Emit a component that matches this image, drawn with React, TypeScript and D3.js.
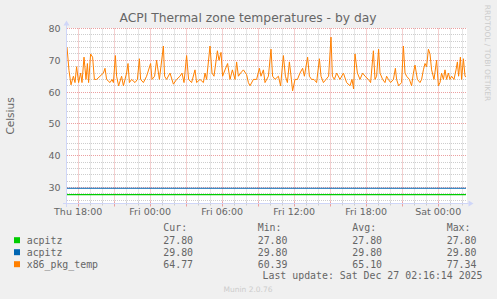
import React from 'react';
import * as d3 from 'd3';

const startTime = Date.UTC(2025, 11, 25, 17, 4);
const spanMinutes = 2000;

const tempMinutes = [
  0, 10, 20, 32, 40, 48, 58, 68, 75, 85, 95, 102, 108, 118, 128, 137, 148, 165, 182, 190,
  198, 215, 225, 232, 242, 248, 258, 273, 282, 298, 305, 312, 323, 340, 352, 362, 368, 382, 398, 418,
  425, 438, 448, 462, 482, 488, 498, 515, 532, 548, 565, 575, 585, 598, 608, 623, 640, 648, 665, 682,
  690, 698, 715, 725, 735, 752, 760, 770, 778, 790, 803, 815, 827, 840, 848, 857, 868, 882, 898, 907,
  915, 932, 948, 962, 970, 982, 990, 1007, 1020, 1028, 1040, 1057, 1068, 1082, 1092, 1102, 1112, 1122, 1128, 1140,
  1152, 1165, 1178, 1187, 1203, 1212, 1223, 1235, 1248, 1262, 1270, 1282, 1295, 1308, 1320, 1327, 1337, 1348, 1365, 1382,
  1398, 1415, 1425, 1433, 1440, 1452, 1465, 1478, 1490, 1507, 1518, 1532, 1540, 1548, 1558, 1565, 1578, 1590, 1598, 1607,
  1618, 1632, 1642, 1648, 1658, 1673, 1682, 1690, 1698, 1712, 1723, 1732, 1740, 1752, 1765, 1773, 1782, 1790, 1798, 1807,
  1815, 1823, 1835, 1848, 1857, 1865, 1873, 1882, 1890, 1898, 1907, 1915, 1923, 1935, 1945, 1952, 1958, 1967, 1973, 1982,
  1990, 1995,
];

const tempValues = [
  74.1, 66.8, 62.3, 65, 63, 68, 63, 66, 63, 71, 64, 69, 63, 72, 71, 64, 64, 65, 66, 67.5,
  64, 63, 64, 63, 71.5, 65, 62, 65, 62, 66, 69, 63, 64, 63, 64, 70.5, 64, 63, 65, 69,
  64, 65, 70, 64, 74.5, 65, 64, 66, 62.5, 64, 65, 66, 63, 71.5, 64, 63, 67, 63, 64, 63,
  66, 64, 74.5, 66, 65, 73, 70, 72.5, 65, 67, 69, 64, 67, 64, 69.5, 65, 66, 67, 65.5, 63,
  62, 64, 64, 67.5, 65, 67, 63, 65, 73.5, 65, 64, 65, 62, 71.5, 65, 63, 69.5, 64, 60.4, 64,
  64, 66, 67.5, 65, 71, 65, 64, 64, 63, 70.5, 65, 63, 64, 65, 77.3, 65, 64, 66, 64, 66,
  63, 62, 64, 61, 72, 66, 64, 66, 65, 64, 63, 73, 64, 65, 73.5, 66, 64, 63, 65, 64,
  63, 64, 67.5, 64, 62, 63, 74.5, 66, 65, 64, 62, 66, 68.5, 64, 63, 64, 67, 69, 68, 73.5,
  72, 67, 64, 70, 62, 63, 66, 64, 67, 64, 66, 64, 65, 64, 67, 69.5, 65, 71, 64, 70.5,
  65, 64.77,
];

const acpitzGreen = 27.8;
const acpitzBlue = 29.8;

const yDomain = [25, 80];
const yTickValues = [30, 40, 50, 60, 70, 80];
const xTickLabelHours = [18, 24, 30, 36, 42, 48];

const legendNames = ['acpitz', 'acpitz', 'x86_pkg_temp'];
const legendColors = ['#00CC00', '#0066B3', '#FF8000'];
const legendCur = ['27.80', '29.80', '64.77'];
const legendMin = ['27.80', '29.80', '60.39'];
const legendAvg = ['27.80', '29.80', '65.10'];
const legendMax = ['27.80', '29.80', '77.34'];

const title = 'ACPI Thermal zone temperatures - by day';
const unitLabel = 'Celsius';
const lastUpdate = 'Last update: Sat Dec 27 02:16:14 2025';
const watermark = 'RRDTOOL / TOBI OETIKER';
const footer = 'Munin 2.0.76';

export default function App() {
  const W = 497;
  const H = 299;
  const x0 = 67, x1 = 467;
  const yTop = 28.5, yBot = 203.5;
  const start = new Date(startTime);
  const end = new Date(startTime + spanMinutes * 60000);
  const x = d3.scaleUtc().domain([start, end]).range([x0, x1]);
  const y = d3.scaleLinear().domain(yDomain).range([yBot, yTop]);

  const dayStart = Date.UTC(2025, 11, 25, 0, 0);
  const hours = d3.utcHour.range(start, end);
  const minorX = hours.filter((d) => d.getUTCHours() % 3 !== 0);
  const majorX = hours.filter((d) => d.getUTCHours() % 3 === 0);
  const snap = (v: number) => Math.floor(v) + 0.5;

  const minorY = d3.range(26, 81, 2).filter((v) => v % 10 !== 0);
  const majorY = d3.range(30, 81, 10);

  const tempData = tempMinutes.map((m, i) => ({ t: new Date(startTime + m * 60000), v: tempValues[i] }));
  const line = d3.line<{ t: Date; v: number }>().x((d) => x(d.t)).y((d) => y(d.v));

  const fmt = d3.utcFormat('%a %H:%M');
  const font = 'DejaVu Sans, sans-serif';
  const mono = 'DejaVu Sans Mono, monospace';
  const textColor = '#666';
  const gridColor = '#cdcdcd';
  const mgridColor = '#eba0a0';
  const axisColor = '#CFD6F8';

  const legendRows = [243.5, 255.5, 267.5];
  const colX = [163.3, 257.7, 352.3, 446.7];

  return (
    <svg width={W} height={H} style={{ position: 'absolute', left: 0, top: 0, display: 'block' }}>
      <rect x={0} y={0} width={W} height={H} fill="#F0F0F0" />
      <rect x={x0} y={yTop - 0.5} width={x1 - x0} height={yBot - yTop} fill="#FFFFFF" />

      {/* minor grid */}
      {minorX.map((d, i) => (
        <line key={'mx' + i} x1={snap(x(d))} x2={snap(x(d))} y1={yTop} y2={yBot - 0.5} stroke={gridColor} strokeDasharray="1,1" />
      ))}
      {minorY.map((v, i) => (
        <line key={'my' + i} x1={x0} x2={x1} y1={snap(y(v))} y2={snap(y(v))} stroke={gridColor} strokeDasharray="1,1" />
      ))}
      {/* major grid */}
      {majorX.map((d, i) => (
        <line key={'Mx' + i} x1={snap(x(d))} x2={snap(x(d))} y1={yTop} y2={yBot - 0.5} stroke={mgridColor} strokeDasharray="1,1" />
      ))}
      {majorY.map((v, i) => (
        <line key={'My' + i} x1={x0} x2={x1} y1={snap(y(v))} y2={snap(y(v))} stroke={mgridColor} strokeDasharray="1,1" />
      ))}

      {/* x tick marks */}
      {minorX.map((d, i) => (
        <line key={'tx' + i} x1={snap(x(d))} x2={snap(x(d))} y1={yBot - 2} y2={yBot + 2} stroke={gridColor} />
      ))}
      {majorX.map((d, i) => (
        <line key={'Tx' + i} x1={snap(x(d))} x2={snap(x(d))} y1={yBot - 2} y2={yBot + 3} stroke={mgridColor} />
      ))}

      {/* data */}
      <line x1={x0} x2={x1 - 1} y1={y(acpitzGreen)} y2={y(acpitzGreen)} stroke={legendColors[0]} strokeWidth={1.2} />
      <line x1={x0} x2={x1 - 1} y1={y(acpitzBlue)} y2={y(acpitzBlue)} stroke={legendColors[1]} strokeWidth={1.2} />
      <path d={line(tempData) || ''} fill="none" stroke={legendColors[2]} strokeWidth={1} strokeLinejoin="round" />

      {/* axes */}
      <line x1={66.5} x2={66.5} y1={207} y2={25} stroke={axisColor} />
      <polygon points="63.5,25.5 69.5,25.5 66.5,20.5" fill={axisColor} />
      <line x1={63} x2={468.5} y1={yBot} y2={yBot} stroke={axisColor} />
      <polygon points="468.5,200.5 468.5,206.5 473.5,203.5" fill={axisColor} />

      {/* y labels */}
      {yTickValues.map((v) => (
        <text key={'yl' + v} x={60.5} y={y(v) + 3.5} textAnchor="end" fontFamily={font} fontSize={9.5} fill={textColor}>
          {v}
        </text>
      ))}
      {/* x labels */}
      {xTickLabelHours.map((h) => {
        const d = new Date(dayStart + h * 3600000);
        return (
          <text key={'xl' + h} x={x(d)} y={215} textAnchor="middle" fontFamily={font} fontSize={9.5} fill={textColor}>
            {fmt(d)}
          </text>
        );
      })}

      <text x={248} y={22} textAnchor="middle" fontFamily={font} fontSize={12.3} fill={textColor}>
        {title}
      </text>
      <text transform={`translate(14,${(yTop + yBot) / 2}) rotate(-90)`} textAnchor="middle" fontFamily={font} fontSize={10.5} fill={textColor}>
        {unitLabel}
      </text>
      <text transform={`translate(485,53) rotate(90)`} textAnchor="middle" fontFamily={font} fontSize={7.5} fill="#cccccc">
        {watermark}
      </text>

      {/* legend */}
      {['Cur:', 'Min:', 'Avg:', 'Max:'].map((h, i) => (
        <text key={'lh' + i} x={colX[i]} y={231} fontFamily={mono} fontSize={9.9} fill={textColor}>
          {h}
        </text>
      ))}
      {legendNames.map((n, i) => (
        <g key={'lg' + i}>
          <rect x={14} y={legendRows[i] - 6.3} width={6} height={6} fill={legendColors[i]} />
          <text x={26.7} y={legendRows[i]} fontFamily={mono} fontSize={9.9} fill={textColor}>
            {n}
          </text>
          {[legendCur[i], legendMin[i], legendAvg[i], legendMax[i]].map((v, j) => (
            <text key={j} x={colX[j]} y={legendRows[i]} fontFamily={mono} fontSize={9.9} fill={textColor}>
              {v}
            </text>
          ))}
        </g>
      ))}
      <text x={482.5} y={279} textAnchor="end" fontFamily={mono} fontSize={9.9} fill={textColor}>
        {lastUpdate}
      </text>
      <text x={248} y={291.5} textAnchor="middle" fontFamily={font} fontSize={7.5} fill="#cccccc">
        {footer}
      </text>
    </svg>
  );
}
